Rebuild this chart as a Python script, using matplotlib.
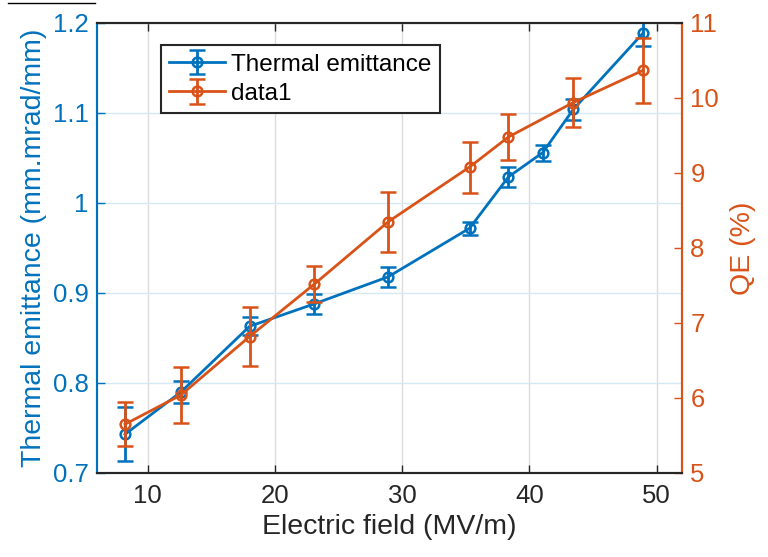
## Thermal emittance and QE vs electric field

import numpy as np
import matplotlib.pyplot as plt
from matplotlib.lines import Line2D

## Data

field_te = [8.2, 12.6, 18.0, 23.1, 28.9, 35.3, 38.35, 41.05, 43.45, 48.95]
emittance = [0.743, 0.790, 0.863, 0.888, 0.918, 0.972, 1.029, 1.056, 1.104, 1.189]
emittance_err = [0.030, 0.012, 0.010, 0.011, 0.011, 0.007, 0.011, 0.009, 0.012, 0.015]

field_qe = [8.2, 12.6, 18.0, 23.1, 28.9, 35.3, 38.35, 43.45, 48.95]
qe = [5.65, 6.04, 6.82, 7.52, 8.35, 9.08, 9.48, 9.94, 10.37]
qe_err = [0.29, 0.37, 0.39, 0.24, 0.40, 0.34, 0.30, 0.33, 0.43]

x_ticks = [10, 20, 30, 40, 50]
left_ticks = [0.7, 0.8, 0.9, 1.0, 1.1, 1.2]
left_labels = ['0.7', '0.8', '0.9', '1', '1.1', '1.2']
right_ticks = [5, 6, 7, 8, 9, 10, 11]

## Style

blue = '#0072BD'
orange = '#D95319'
dark = '#262626'
plt.rcParams['font.family'] = ['Liberation Sans', 'DejaVu Sans']

fig = plt.figure(figsize=(7.68, 5.57), dpi=100)
ax = fig.add_axes([97/768, 1 - 473/557, 585/768, 450/557])
ax2 = ax.twinx()

## Left axis: thermal emittance

h1 = ax.errorbar(field_te, emittance, yerr=emittance_err, fmt='-o', color=blue,
                 mfc='none', mew=1.8, ms=7, lw=2, elinewidth=2,
                 capsize=6, capthick=2, label='Thermal emittance')
ax.set_xlim(6, 52)
ax.set_ylim(0.7, 1.2)
ax.set_xticks(x_ticks)
ax.set_yticks(left_ticks)
ax.set_yticklabels(left_labels)
ax.set_xlabel('Electric field (MV/m)', fontsize=20.5, color=dark)
ax.set_ylabel('Thermal emittance (mm.mrad/mm)', fontsize=20.5, color=blue, labelpad=4)
ax.tick_params(axis='x', direction='in', length=6, width=1, top=True,
               labelsize=18.5, colors=dark, pad=8)
ax.tick_params(axis='y', direction='in', length=6, width=1,
               labelsize=18.5, colors=blue, pad=6)
ax.grid(axis='x', color='#dcdcdc', lw=1)
ax.grid(axis='y', color='#d6e8f4', lw=1)
ax.set_axisbelow(True)

## Right axis: QE

h2 = ax2.errorbar(field_qe, qe, yerr=qe_err, fmt='-o', color=orange,
                  mfc='none', mew=1.8, ms=7, lw=2, elinewidth=2,
                  capsize=6, capthick=2, label='data1')
ax2.set_ylim(5, 11)
ax2.set_yticks(right_ticks)
ax2.set_ylabel('QE (%)', fontsize=20.5, color=orange, labelpad=8)
ax2.tick_params(axis='y', direction='in', length=6, width=1,
                labelsize=18.5, colors=orange, pad=6)

## Spines

for a in (ax, ax2):
    a.spines['top'].set_color(dark)
    a.spines['bottom'].set_color(dark)
    a.spines['left'].set_color(blue)
    a.spines['right'].set_color(orange)
    for s in a.spines.values():
        s.set_linewidth(1.5)

## Legend

leg = ax2.legend([h1, h2], ['Thermal emittance', 'data1'], loc='upper left',
                 bbox_to_anchor=(0.109, 0.951), borderaxespad=0, fontsize=17.5,
                 fancybox=False, framealpha=1, edgecolor=dark,
                 handlelength=2.3, handletextpad=0.25, borderpad=0.35, labelspacing=0.3)
leg.get_frame().set_linewidth(1.5)

## Little black line at the top left of the picture

fig.add_artist(Line2D([8/768, 95/768], [1 - 3/557, 1 - 3/557], color='black', lw=1))

fig.savefig('out.png', dpi=100)
